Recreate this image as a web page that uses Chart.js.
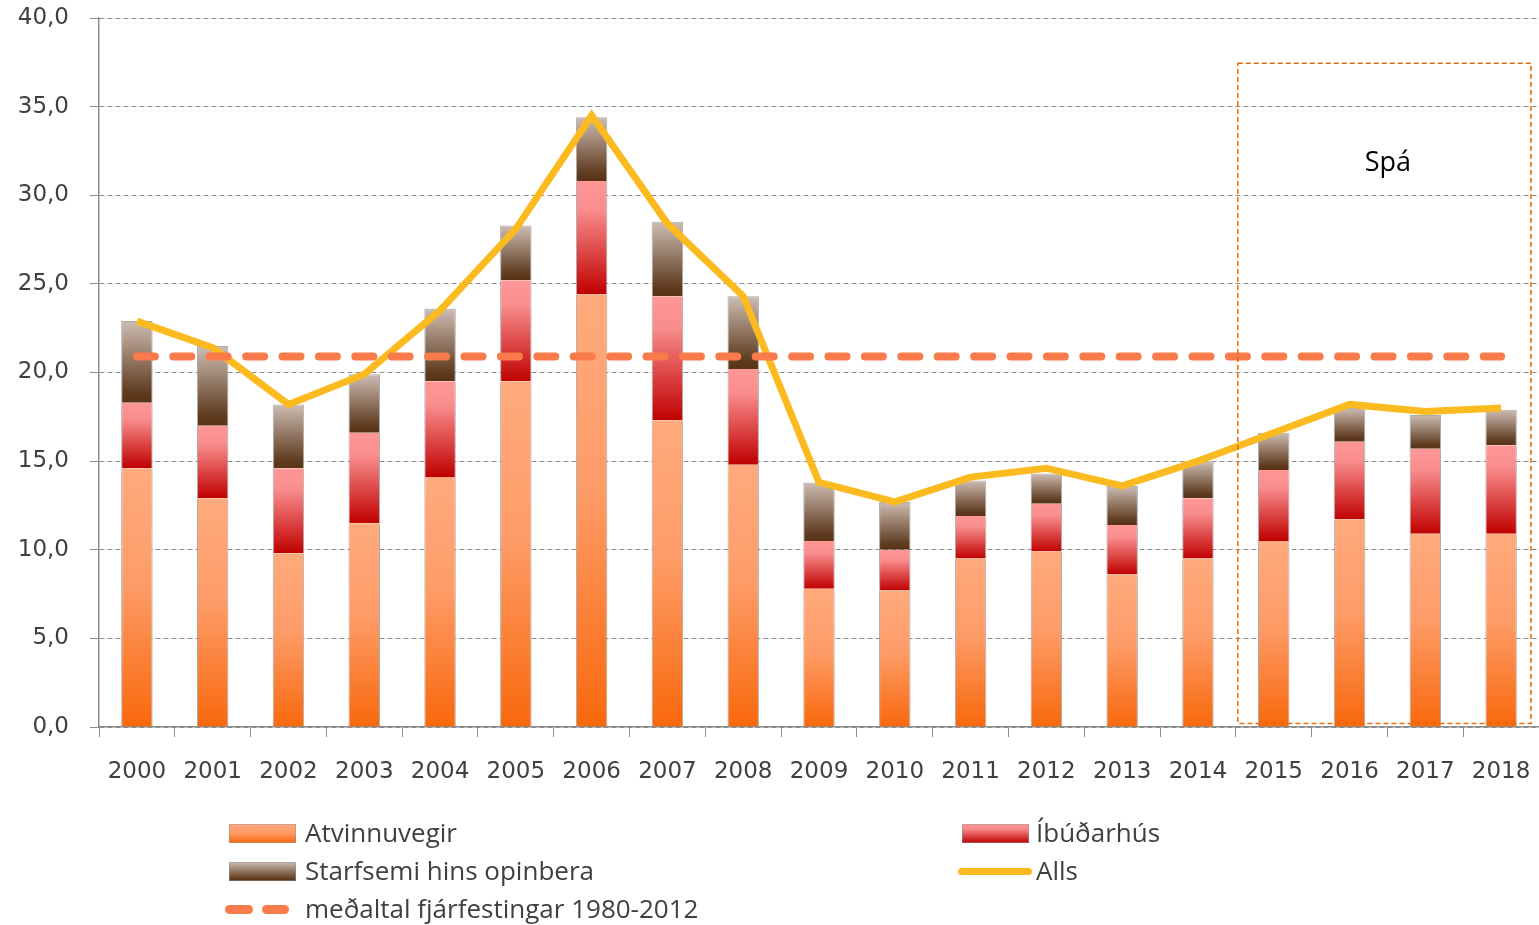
<!DOCTYPE html>
<html lang="is">
<head>
<meta charset="utf-8">
<title>Fjárfesting</title>
<script src="https://cdn.jsdelivr.net/npm/chart.js@4.4.1/dist/chart.umd.min.js"></script>
<style>
  body { margin: 0; background: #fff; }
  #wrap { position: absolute; left: 0; top: 0; width: 1539px; height: 800px; }
  #legend { position: absolute; left: 0; top: 0; width: 1539px; height: 925px; pointer-events: none; }
  .lg-sw { position: absolute; }
  .lg-tx { position: absolute; font-family: "Open Sans", sans-serif; font-size: 26px; color: #404040; line-height: 1; transform: translateY(-55%); white-space: nowrap; }
</style>
</head>
<body>
<div id="wrap"><canvas id="myChart"></canvas></div>
<div id="legend"></div>
<script>
const years = ["2000", "2001", "2002", "2003", "2004", "2005", "2006", "2007", "2008", "2009",
  "2010", "2011", "2012", "2013", "2014", "2015", "2016", "2017", "2018"];
const atvinnuvegir = [14.6, 12.9, 9.8, 11.5, 14.1, 19.5, 24.4, 17.3, 14.8, 7.8, 7.7, 9.5, 9.9, 8.6, 9.5, 10.5, 11.7, 10.9, 10.9];
const ibudarhus = [3.7, 4.1, 4.8, 5.1, 5.4, 5.7, 6.4, 7.0, 5.4, 2.7, 2.3, 2.4, 2.7, 2.8, 3.4, 4.0, 4.4, 4.8, 5.0];
const opinbera = [4.6, 4.5, 3.6, 3.3, 4.1, 3.1, 3.6, 4.2, 4.1, 3.3, 2.7, 2.0, 1.7, 2.2, 2.1, 2.1, 1.9, 1.9, 2.0];
const alls = [22.9, 21.4, 18.2, 19.9, 23.5, 28.1, 34.5, 28.4, 24.3, 13.8, 12.7, 14.1, 14.6, 13.6, 15.0, 16.6, 18.2, 17.8, 18.0];
const medaltal = [20.9, 20.9, 20.9, 20.9, 20.9, 20.9, 20.9, 20.9, 20.9, 20.9, 20.9, 20.9, 20.9, 20.9, 20.9, 20.9, 20.9, 20.9, 20.9];
const yTicks = [0, 5, 10, 15, 20, 25, 30, 35, 40];
const spaLabel = "Spá";

document.addEventListener("DOMContentLoaded", function () {
  const ctx = document.getElementById("myChart");
  const tickFont = { family: "DejaVu Sans", size: 23 };

  // gradient stops for each bar segment, top -> bottom
  const atvStops = [[0, "#FFAA7D"], [0.45, "#FE9C68"], [1, "#F8680C"]];
  const ibuStops = [[0, "#FF9797"], [0.25, "#F98D8D"], [1, "#C00000"]];
  const opiStops = [[0, "#CDBDB3"], [0.88, "#5F3B1F"], [1, "#583315"]];

  // build a vertical gradient covering just this bar segment
  function segGradient(stops) {
    return function (c) {
      const chart = c.chart;
      if (!chart.chartArea || c.type !== "data") return stops[0][1];
      const sets = chart.data.datasets;
      let start = 0;
      for (let k = 0; k < c.datasetIndex; k++) start += sets[k].data[c.dataIndex];
      const end = start + sets[c.datasetIndex].data[c.dataIndex];
      const y = chart.scales.y;
      const g = chart.ctx.createLinearGradient(0, y.getPixelForValue(end), 0, y.getPixelForValue(start));
      stops.forEach(s => g.addColorStop(s[0], s[1]));
      return g;
    };
  }

  // ====== dashed "Spá" forecast box ======
  const spaBox = {
    id: "spaBox",
    afterDatasetsDraw(chart) {
      const { ctx: c, scales, chartArea } = chart;
      const x = scales.x, y = scales.y;
      const left = (x.getPixelForValue(14) + x.getPixelForValue(15)) / 2 + 2;
      const right = chartArea.right - 8;
      const top = y.getPixelForValue(37.45);
      const bottom = y.getPixelForValue(0.2);
      c.save();
      c.strokeStyle = "#E46C0A";
      c.lineWidth = 1.5;
      c.setLineDash([5, 3]);
      c.strokeRect(left, top, right - left, bottom - top);
      c.font = '27px "Open Sans"';
      c.fillStyle = "#000";
      c.textAlign = "center";
      c.textBaseline = "middle";
      c.fillText(spaLabel, left + 150, y.getPixelForValue(31.8));
      c.restore();
    }
  };

  function createChart() {
    return new Chart(ctx, {
      type: "bar",
      data: {
        labels: years,
        datasets: [
          {
            label: "Atvinnuvegir",
            data: atvinnuvegir,
            stack: "bars",
            order: 3,
            backgroundColor: segGradient(atvStops),
            borderColor: "rgba(150,150,150,0.8)",
            borderWidth: { left: 1, right: 1, top: 0, bottom: 0 },
            borderSkipped: false,
          },
          {
            label: "Íbúðarhús",
            data: ibudarhus,
            stack: "bars",
            order: 3,
            backgroundColor: segGradient(ibuStops),
            borderColor: "rgba(150,150,150,0.8)",
            borderWidth: { left: 1, right: 1, top: 0, bottom: 0 },
            borderSkipped: false,
          },
          {
            label: "Starfsemi hins opinbera",
            data: opinbera,
            stack: "bars",
            order: 3,
            backgroundColor: segGradient(opiStops),
            borderColor: "rgba(150,150,150,0.8)",
            borderWidth: { left: 1, right: 1, top: 1, bottom: 0 },
            borderSkipped: false,
          },
          {
            type: "line",
            label: "Alls",
            data: alls,
            stack: "alls",
            order: 2,
            borderColor: "#FBBA1F",
            backgroundColor: "#FBBA1F",
            borderWidth: 7,
            borderJoinStyle: "miter",
            pointRadius: 0,
            tension: 0,
          },
          {
            type: "line",
            label: "meðaltal fjárfestingar 1980-2012",
            data: medaltal,
            stack: "mean",
            order: 1,
            borderColor: "#F97B4B",
            backgroundColor: "#F97B4B",
            borderWidth: 8,
            borderCapStyle: "round",
            borderDash: [18, 18.4],
            pointRadius: 0,
          },
        ],
      },
      options: {
        responsive: true,
        maintainAspectRatio: false,
        animation: false,
        layout: { padding: { top: 18, right: 0, bottom: 0, left: 0 } },
        datasets: {
          bar: { categoryPercentage: 1, barPercentage: 0.415 },
        },
        plugins: {
          legend: { display: false },
          tooltip: { enabled: false },
        },
        scales: {
          x: {
            stacked: true,
            grid: {
              display: true,
              drawOnChartArea: false,
              drawTicks: true,
              tickLength: 10,
              tickColor: "#8C8C8C",
              offset: true,
            },
            border: { color: "#8C8C8C", width: 1.5 },
            ticks: { color: "#404040", font: tickFont, padding: 21, maxRotation: 0, autoSkip: false },
            afterFit(scale) {
              scale.height = 73;
              scale.paddingLeft = 0;
              scale.paddingRight = 0;
            },
          },
          y: {
            stacked: true,
            min: 0,
            max: 40,
            afterBuildTicks(scale) { scale.ticks = yTicks.map(v => ({ value: v })); },
            grid: {
              color: "#8C8C8C",
              lineWidth: 1,
              drawTicks: true,
              tickLength: 9,
              tickColor: "#8C8C8C",
              tickBorderDash: [],
            },
            border: { color: "#8C8C8C", width: 1.5, dash: [5, 3] },
            ticks: {
              color: "#404040",
              font: tickFont,
              padding: 21,
              callback: v => v.toFixed(1).replace(".", ","),
            },
            afterFit(scale) {
              scale.width = 99;
              scale.paddingTop = 0;
              scale.paddingBottom = 0;
            },
          },
        },
      },
      plugins: [spaBox],
    });
  }

  // ====== HTML legend ======
  function buildLegend(chart) {
    const box = document.getElementById("legend");
    const slots = [
      { sx: 229, tx: 305, y: 833 },
      { sx: 962, tx: 1036, y: 833 },
      { sx: 229, tx: 305, y: 871 },
      { sx: 958, tx: 1036, y: 871 },
      { sx: 225, tx: 305, y: 909 },
    ];
    const swatches = [
      "width:67px;height:19px;background:linear-gradient(#FFAA7D,#FE9C68 45%,#F8680C);box-shadow:0 0 0 1px rgba(150,150,150,0.5) inset;",
      "width:67px;height:19px;background:linear-gradient(#FF9797,#F98D8D 25%,#C00000);box-shadow:0 0 0 1px rgba(150,150,150,0.5) inset;",
      "width:67px;height:19px;background:linear-gradient(#CDBDB3,#5F3B1F 88%,#583315);box-shadow:0 0 0 1px rgba(150,150,150,0.5) inset;",
      "width:74px;height:7px;border-radius:4px;background:#FBBA1F;",
      "width:64px;height:9px;",
    ];
    chart.data.datasets.forEach(function (ds, i) {
      const s = slots[i];
      const sw = document.createElement("div");
      sw.className = "lg-sw";
      sw.style.cssText = swatches[i];
      if (i === 4) {
        sw.innerHTML = '<span style="position:absolute;left:0;top:0;width:28px;height:9px;border-radius:5px;background:#F97B4B"></span>' +
          '<span style="position:absolute;left:37px;top:0;width:27px;height:9px;border-radius:5px;background:#F97B4B"></span>';
      }
      const h = parseFloat(sw.style.height);
      sw.style.left = s.sx + "px";
      sw.style.top = (s.y - h / 2) + "px";
      box.appendChild(sw);
      const tx = document.createElement("div");
      tx.className = "lg-tx";
      tx.textContent = ds.label;
      tx.style.left = s.tx + "px";
      tx.style.top = s.y + "px";
      box.appendChild(tx);
    });
  }

  const chart = createChart();
  buildLegend(chart);
});
</script>
</body>
</html>
